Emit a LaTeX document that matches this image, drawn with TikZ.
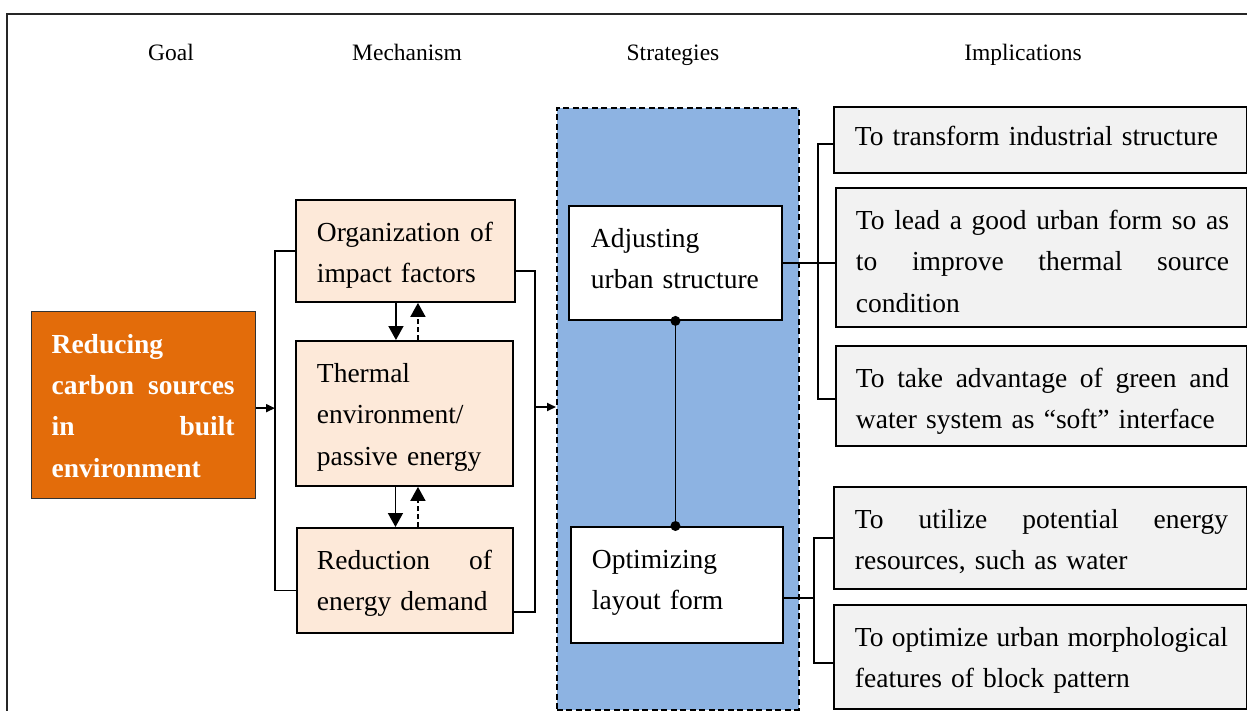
\documentclass[tikz,border=0pt]{standalone}
\usepackage{fontspec}
\setmainfont{Liberation Serif}
\usetikzlibrary{arrows.meta}
\definecolor{goalorange}{HTML}{E36C0A}
\definecolor{mechpeach}{HTML}{FDE9D9}
\definecolor{stratblue}{HTML}{8DB3E2}
\definecolor{implgray}{HTML}{F2F2F2}
\newcommand{\bodyfont}{\fontsize{27.5}{41.3}\selectfont}
\newcommand{\headfont}{\fontsize{23.5}{28}\selectfont}
% a line spread to a given width (word gaps made stretchable again)
\newcommand{\jline}[2]{\makebox[#1][s]{\spaceskip=0.25em plus 1fil\xspaceskip=\spaceskip #2}}
% struts fixing the first baseline and the space under the last one
\newcommand{\topgap}[1][41.5pt]{\rule{0pt}{#1}}
\newcommand{\botgap}[1]{\rule[-#1]{0pt}{#1}}
\begin{document}
\begin{tikzpicture}[x=1pt,y=-1pt,
  box/.style={draw=black, line width=1.9pt, inner ysep=0pt, anchor=north west,
    align=left, font=\bodyfont},
  head/.style={font=\headfont, inner sep=0pt, anchor=base},
  link/.style={line width=1.7pt},
  arr/.style={link, -{Triangle[length=9pt,width=8pt]}},
  bigarr/.style={link, -{Triangle[length=14pt,width=15pt]}},
  dasharr/.style={bigarr, dash pattern=on 5pt off 3pt},
  dot/.style={circle, fill=black, inner sep=0pt, minimum size=10pt}]
\useasboundingbox (0,0) rectangle (1247,711);
\clip (0,0) rectangle (1247,711);
% outer frame
\draw[line width=1.9pt, black!85] (7,14) rectangle (1270,730);

% column headings
\node[head] (hgoal) at (171,61) {Goal};
\node[head] (hmech) at (407,61) {Mechanism};
\node[head] (hstrat) at (673,61) {Strategies};
\node[head] (himpl) at (1023,61) {Implications};

% goal
\node[box, fill=goalorange, draw=black!80, line width=1.3pt, text=white,
  text width=184pt, inner xsep=20pt] (goal) at (31,311)
  {\bfseries \topgap\mbox{Reducing}\\ \jline{183pt}{carbon sources}\\
   \jline{183pt}{in built}\\ \mbox{environment}\botgap{21.6pt}};

% mechanism
\node[box, fill=mechpeach, text width=177pt, inner xsep=21pt]
  (m1) at (295,199) {\topgap\jline{176pt}{Organization of}\\ \mbox{impact factors}\botgap{19.2pt}};
\node[box, fill=mechpeach, text width=175pt, inner xsep=21pt]
  (m2) at (295,340) {\topgap\mbox{Thermal}\\ \mbox{environment/}\\ \mbox{passive energy}\botgap{20.9pt}};
\node[box, fill=mechpeach, text width=176pt, inner xsep=20pt]
  (m3) at (296,527) {\topgap\jline{175pt}{Reduction of}\\ \mbox{energy demand}\botgap{22.2pt}};

% strategies
\node[draw=black, line width=1.6pt, dash pattern=on 6pt off 3.5pt, fill=stratblue,
  anchor=north west, minimum width=242pt, minimum height=602pt, inner sep=0pt]
  (strat) at (556,107) {};
\node[box, fill=white, text width=169pt, inner xsep=22pt]
  (adj) at (568,205) {\topgap\mbox{Adjusting}\\ \mbox{urban structure}\botgap{31.2pt}};
\node[box, fill=white, text width=170pt, inner xsep=21pt]
  (opt) at (570,526) {\topgap\mbox{Optimizing}\\ \mbox{layout form}\botgap{33.2pt}};

% implications
\node[box, fill=implgray, text width=371pt, inner xsep=21pt]
  (i1) at (833,106) {\topgap[39pt]\mbox{To transform industrial structure}\botgap{27pt}};
\node[box, fill=implgray, text width=371pt, inner xsep=20pt]
  (i2) at (835,187) {\topgap\jline{373pt}{To lead a good urban form so as}\\
   \jline{373pt}{to improve thermal source}\\ \mbox{condition}\botgap{14.9pt}};
\node[box, fill=implgray, text width=371pt, inner xsep=20pt]
  (i3) at (835,345) {\topgap\jline{373pt}{To take advantage of green and}\\
   \mbox{water system as “soft” interface}\botgap{17.2pt}};
\node[box, fill=implgray, text width=371pt, inner xsep=21pt]
  (i4) at (833,486) {\topgap\jline{373pt}{To utilize potential energy}\\
   \mbox{resources, such as water}\botgap{19.2pt}};
\node[box, fill=implgray, text width=371pt, inner xsep=21pt]
  (i5) at (833,604) {\topgap\jline{373pt}{To optimize urban morphological}\\
   \mbox{features of block pattern}\botgap{21.2pt}};

% bracket from goal to mechanism
\coordinate (lbar) at (275,0);
\draw[link] (m1.west) -- (m1.west -| lbar) -- ([yshift=-10pt]m3.west -| lbar) -- ([yshift=-10pt]m3.west);
\draw[arr] ([yshift=-3pt]goal.east) -- ([yshift=-3pt]goal.east -| lbar);

% bracket from mechanism to strategies
\coordinate (rbar) at (535,0);
\coordinate (rmid) at (535,407);
\draw[link] ([yshift=-20pt]m1.east) -- ([yshift=-20pt]m1.east -| rbar)
  -- ([yshift=-31.5pt]m3.east -| rbar) -- ([yshift=-31.5pt]m3.east);
\draw[arr] (rmid) -- (rmid -| strat.west);

% mutual influence between mechanism boxes
\draw[bigarr] ([xshift=-9.5pt]m1.south) -- ([xshift=-9.5pt]m1.south |- m2.north);
\draw[dasharr] ([xshift=13.5pt]m2.north) -- ([xshift=13.5pt]m2.north |- m1.south);
\draw[bigarr] ([xshift=-9pt]m2.south) -- ([xshift=-9pt]m2.south |- m3.north);
\draw[dasharr] ([xshift=13pt]m3.north) -- ([xshift=13pt]m3.north |- m2.south);

% link between the two strategies
\draw[link] (adj.south) -- (adj.south |- opt.north);
\node[dot] (dtop) at (adj.south) {};
\node[dot] (dbot) at (adj.south |- opt.north) {};

% strategies to implications
\coordinate (ubar) at (818,0);
\draw[link] ([yshift=-4pt]i1.west) -- ([yshift=-4pt]i1.west -| ubar)
  -- ([yshift=-3pt]i3.west -| ubar) -- ([yshift=-3pt]i3.west);
\draw[link] (adj.east) -- (adj.east -| i2.west);
\coordinate (obar) at (814,0);
\draw[link] (i4.west) -- (i4.west -| obar) -- ([yshift=-6pt]i5.west -| obar) -- ([yshift=-6pt]i5.west);
\draw[link] ([yshift=-13pt]opt.east) -- ([yshift=-13pt]opt.east -| obar);
\end{tikzpicture}
\end{document}
